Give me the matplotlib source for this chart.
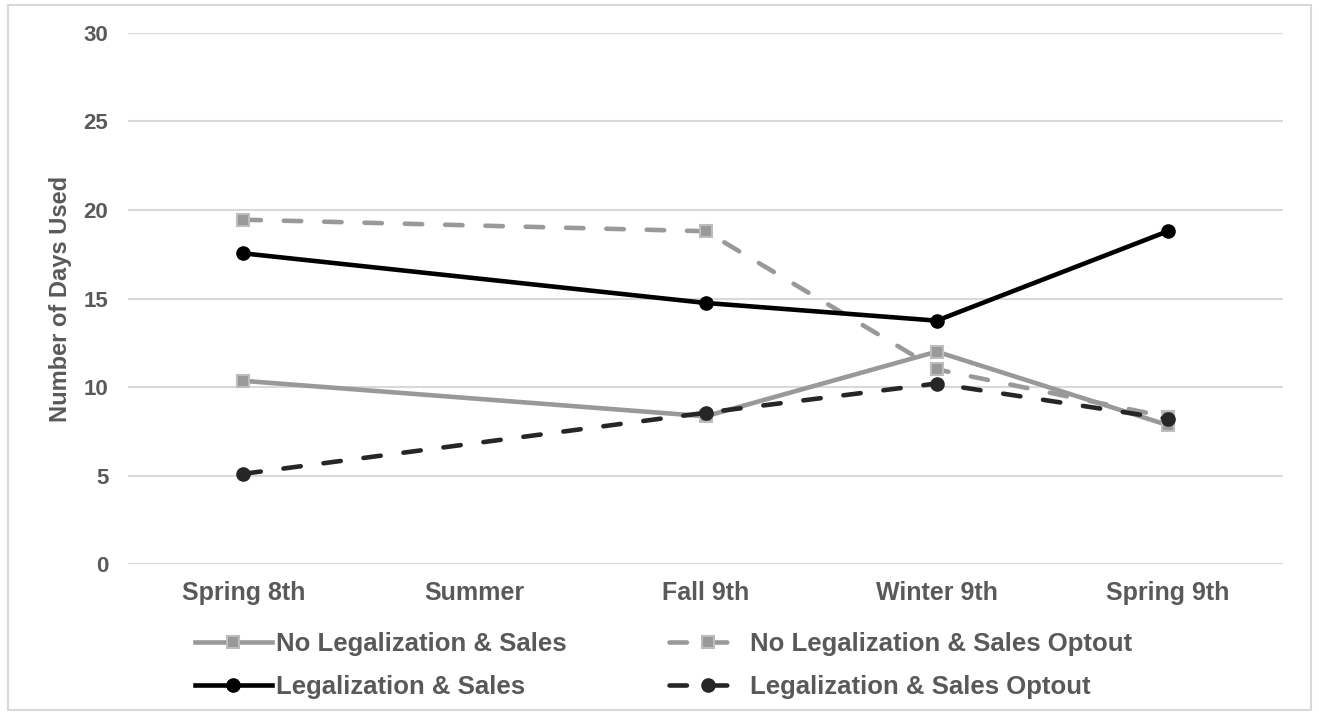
import matplotlib.pyplot as plt
from matplotlib.patches import Rectangle

# data
categories = ["Spring 8th", "Summer", "Fall 9th", "Winter 9th", "Spring 9th"]
data_cats = ["Spring 8th", "Fall 9th", "Winter 9th", "Spring 9th"]   # no Summer values

no_leg_sales = [10.35, 8.35, 12.0, 7.85]
no_leg_sales_optout = [19.45, 18.8, 11.0, 8.3]
leg_sales = [17.55, 14.75, 13.75, 18.8]
leg_sales_optout = [5.1, 8.55, 10.2, 8.2]

plt.rcParams['font.family'] = ['Liberation Sans', 'DejaVu Sans']
text_col = '#595959'

fig = plt.figure(figsize=(13.19, 7.15), dpi=100)
ax = fig.add_axes([0.097, 0.211, 0.876, 0.743])

xpos = [categories.index(c) for c in data_cats]
dash = (0, (3.8, 5.0))

ax.plot(xpos, no_leg_sales, color='#999999', lw=3.3, marker='s', ms=8.5,
        mfc='#999999', mec='#bdbdbd', mew=1.5, label="No Legalization & Sales", zorder=3)
ax.plot(xpos, leg_sales, color='#000000', lw=3.3, marker='o', ms=9.5,
        mfc='#000000', mec='#000000', label="Legalization & Sales", zorder=4)
ax.plot(xpos, no_leg_sales_optout, color='#999999', lw=3.3, ls=dash, dash_capstyle='round',
        marker='s', ms=8.5, mfc='#999999', mec='#bdbdbd', mew=1.5,
        label="No Legalization & Sales Optout", zorder=3)
ax.plot(xpos, leg_sales_optout, color='#262626', lw=3.3, ls=dash, dash_capstyle='round',
        marker='o', ms=9.5, mfc='#262626', mec='#262626',
        label="Legalization & Sales Optout", zorder=5)

ax.set_xlim(-0.5, len(categories) - 0.5)
ax.set_ylim(0, 30)
ax.set_yticks(range(0, 31, 5))
ax.set_xticks(range(len(categories)))
ax.set_xticklabels(categories)
ax.grid(axis='y', color='#d9d9d9', lw=1.5)
ax.set_axisbelow(True)
for s in ax.spines.values():
    s.set_visible(False)
ax.tick_params(axis='x', length=0, labelsize=18, labelcolor=text_col, pad=12.5)
ax.tick_params(axis='y', length=0, labelsize=16, labelcolor=text_col, pad=14)
for lab in ax.get_xticklabels() + ax.get_yticklabels():
    lab.set_fontweight('bold')
ax.set_ylabel("Number of Days Used", fontsize=17, color=text_col, fontweight='bold')
ax.yaxis.set_label_coords(-0.0485, 0.5)

leg = fig.legend(loc='lower center', bbox_to_anchor=(0.503, -0.01), ncol=2, frameon=False,
                 fontsize=18.5, handlelength=3.0, columnspacing=4.0, labelspacing=0.75,
                 handletextpad=0.15)
for t in leg.get_texts():
    t.set_color(text_col)
    t.set_fontweight('bold')

fig.patches.append(Rectangle((0.006, 0.007), 0.988, 0.986, transform=fig.transFigure,
                             fill=False, edgecolor='#d9d9d9', lw=1.5))

fig.savefig("out.png", dpi=100)
